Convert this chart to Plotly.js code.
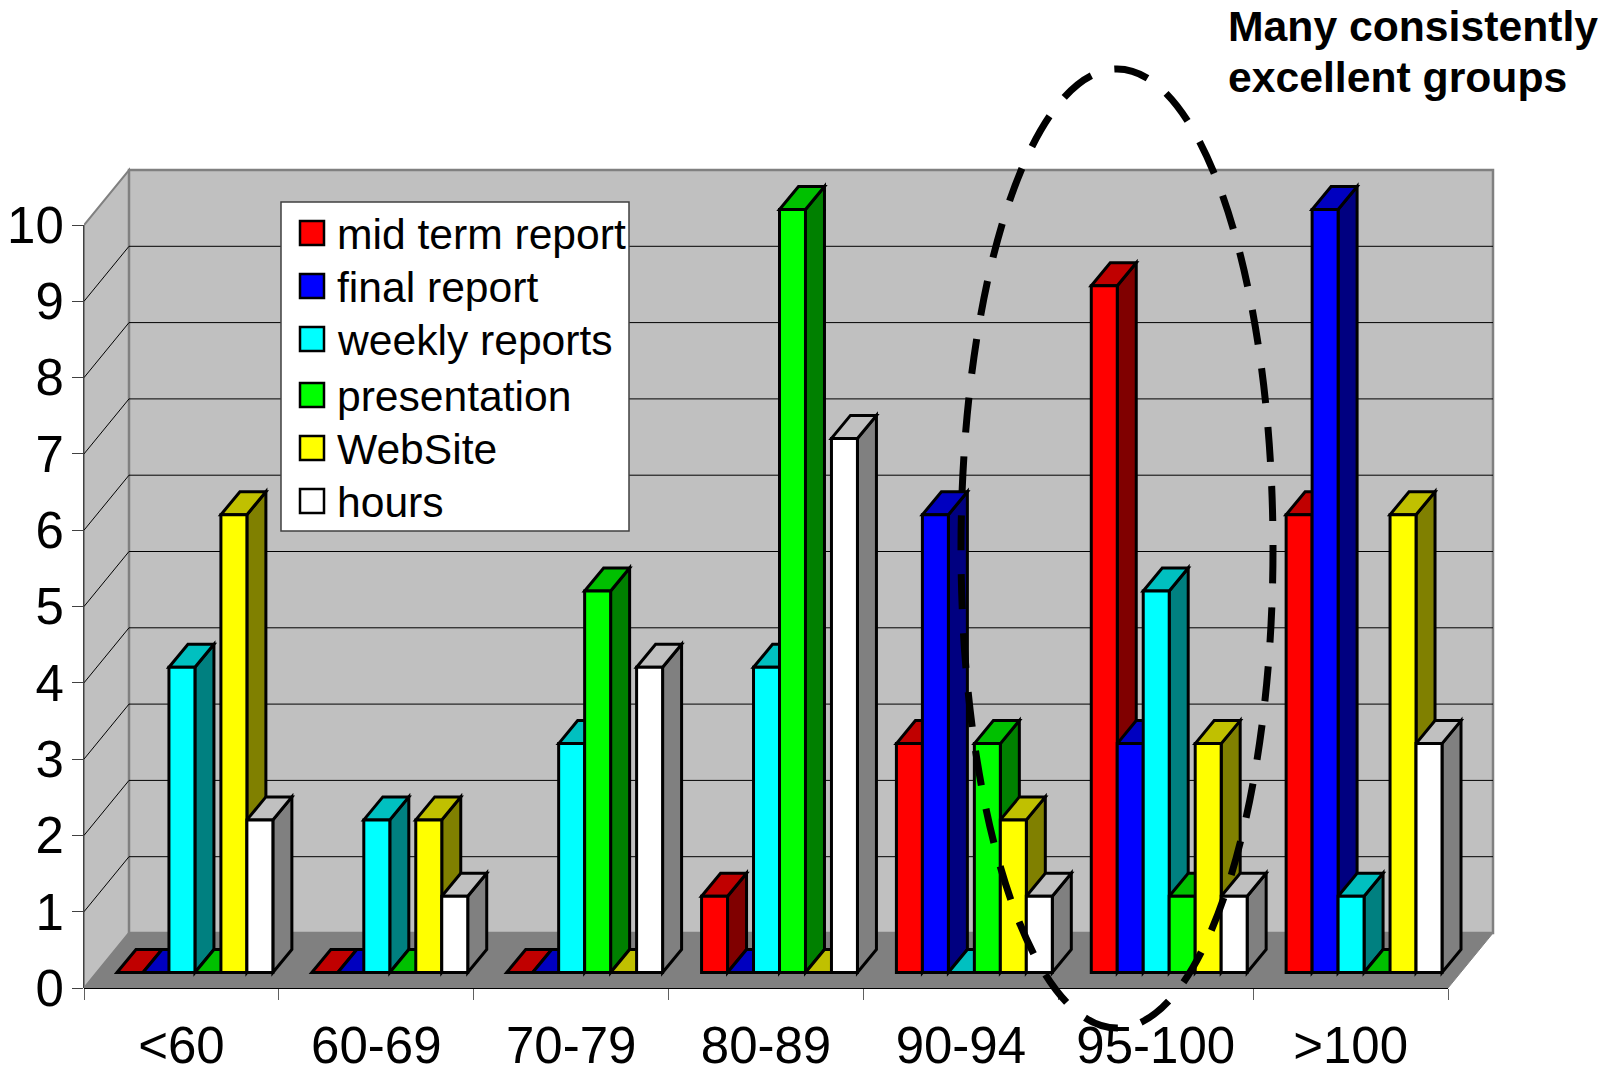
<!DOCTYPE html>
<html>
<head>
<meta charset="utf-8">
<script src="https://cdn.plot.ly/plotly-3.0.1.min.js"></script>
<style>html,body{margin:0;padding:0;background:#fff;overflow:hidden}#c{width:1612px;height:1066px}</style>
</head>
<body>
<div id="c"></div>
<script>
// ---- data ----
const categories = ['<60','60-69','70-79','80-89','90-94','95-100','>100'];
const yTicks = [0,1,2,3,4,5,6,7,8,9,10];
const midTerm      = [0,0,0,1,3,9,6];
const finalReport  = [0,0,0,0,6,3,10];
const weeklyReports= [4,2,3,4,0,5,1];
const presentation = [0,0,5,10,3,1,0];
const webSite      = [6,2,0,0,2,3,6];
const hours        = [2,1,4,7,1,1,3];
const seriesNames  = ['mid term report','final report','weekly reports','presentation','WebSite','hours'];
const seriesValues = [midTerm,finalReport,weeklyReports,presentation,webSite,hours];
const frontColors  = ['#FF0000','#0000FF','#00FFFF','#00FF00','#FFFF00','#FFFFFF'];
const sideColors   = ['#800000','#000080','#008080','#008000','#808000','#808080'];
const topColors    = ['#C00000','#0000C0','#00C0C0','#00C000','#C0C000','#C0C0C0'];
const noteLines    = ['Many consistently','excellent groups'];

// ---- geometry of the fake 3D projection, in px ----
const W=1612,H=1066, left=84, bottom=988;
const unitX=(1448-84)/7, unitY=(988-225)/10;
const plotRight=1496, plotTop=167;
const xMax=(plotRight-left)/unitX, yMax=(bottom-plotTop)/unitY;
const wallDx=45/unitX, wallDy=55/unitY;      // back wall offset
const barDx=19/unitX, barDy=23/unitY;        // bar depth
const barBase=15.5/unitY, groupShift=13.5/unitX; // bar plane offset from the front plane
const bargap=0.2, barW=(1-bargap)/6;
const groupX=categories.map((c,i)=>i+0.5+groupShift);

const px=x=>(x-left)/(plotRight-left), py=y=>(bottom-y)/(bottom-plotTop);
const poly=pts=>'M'+pts.map(p=>p[0]+','+p[1]).join('L')+'Z';

const shapes=[];
// walls + floor
shapes.push({type:'path',layer:'between',path:poly([[0,0],[wallDx,wallDy],[wallDx,10+wallDy],[0,10]]),fillcolor:'#C0C0C0',line:{color:'#808080',width:2}});
shapes.push({type:'rect',layer:'between',x0:wallDx,x1:7+wallDx,y0:wallDy,y1:10+wallDy,fillcolor:'#C0C0C0',line:{color:'#808080',width:2.5}});
shapes.push({type:'path',layer:'between',path:poly([[0,0],[7,0],[7+wallDx,wallDy],[wallDx,wallDy]]),fillcolor:'#808080',line:{color:'#808080',width:1}});
// gridlines
yTicks.filter(v=>v>0&&v<10).forEach(v=>{
  shapes.push({type:'path',layer:'between',path:`M0,${v}L${wallDx},${v+wallDy}L${7+wallDx},${v+wallDy}`,line:{color:'#000000',width:1}});
});
// bar sides and tops, left to right
categories.forEach((c,i)=>{
  seriesValues.forEach((vals,s)=>{
    const x0=groupX[i]-(1-bargap)/2+s*barW, x1=x0+barW, b=barBase, t=barBase+vals[i];
    if(vals[i]>0) shapes.push({type:'path',layer:'between',
      path:poly([[x1,b],[x1+barDx,b+barDy],[x1+barDx,t+barDy],[x1,t]]),
      fillcolor:sideColors[s],line:{color:'#000',width:3}});
    shapes.push({type:'path',layer:'between',
      path:poly([[x0,t],[x0+barDx,t+barDy],[x1+barDx,t+barDy],[x1,t]]),
      fillcolor:topColors[s],line:{color:'#000',width:3}});
  });
});
// axis edges
shapes.push({type:'line',layer:'between',xref:'paper',yref:'y',x0:0,x1:0,y0:0,y1:10,line:{color:'#404040',width:2}});
shapes.push({type:'line',layer:'between',xref:'x',yref:'paper',x0:0,x1:7,y0:0,y1:0,line:{color:'#000',width:2}});

// legend box, keys and labels
shapes.push({type:'rect',layer:'above',xref:'paper',yref:'paper',x0:px(281),x1:px(629),y0:py(202),y1:py(531),fillcolor:'#fff',line:{color:'#404040',width:1.5}});
const legendY=[233,286,339,395,448,501];
const annotations=[];
seriesNames.forEach((n,s)=>{
  shapes.push({type:'rect',layer:'above',xref:'paper',yref:'paper',x0:px(300),x1:px(324),y0:py(legendY[s]-12),y1:py(legendY[s]+12),fillcolor:frontColors[s],line:{color:'#000',width:2.5}});
  annotations.push({xref:'paper',yref:'paper',x:px(336),y:py(legendY[s]+1),xanchor:'left',yanchor:'middle',showarrow:false,align:'left',text:n,borderpad:0,
    font:{family:'"Liberation Sans",Arial,sans-serif',size:42.6,color:'#000'}});
});
// note text
noteLines.forEach((t,i)=>{
  annotations.push({xref:'paper',yref:'paper',x:px(1227),y:py(26+i*51),xanchor:'left',yanchor:'middle',showarrow:false,align:'left',text:t,borderpad:0,
    font:{family:'"Liberation Sans",Arial,sans-serif',size:42.7,weight:700,color:'#000'}});
});
// dashed ellipse
shapes.push({type:'circle',layer:'above',xref:'paper',yref:'paper',x0:px(961),x1:px(1273),y0:py(1028),y1:py(69),fillcolor:'rgba(0,0,0,0)',line:{color:'#000',width:7,dash:'35px,24px'}});

const traces=seriesNames.map((n,s)=>({
  type:'bar',name:n,x:groupX,y:seriesValues[s],base:barBase,
  marker:{color:frontColors[s],line:{color:'#000',width:3}},showlegend:false,hoverinfo:'skip',cliponaxis:false
}));

const tickFont={family:'"Liberation Sans",Arial,sans-serif',size:51,color:'#000'};
const layout={
  width:W,height:H,autosize:false,paper_bgcolor:'#fff',plot_bgcolor:'rgba(0,0,0,0)',
  margin:{l:left,r:W-plotRight,t:plotTop,b:H-bottom,pad:0},
  barmode:'group',bargap:bargap,bargroupgap:0,showlegend:false,
  xaxis:{range:[0,xMax],showgrid:false,zeroline:false,showline:false,
    tickmode:'array',tickvals:categories.map((c,i)=>i+0.5),ticktext:categories,ticks:'',tickfont:tickFont,ticklabelstandoff:23,
    minor:{tickmode:'array',tickvals:[0,1,2,3,4,5,6,7],ticks:'outside',ticklen:11,tickwidth:1,tickcolor:'#606060',showgrid:false}},
  yaxis:{range:[0,yMax],showgrid:false,zeroline:false,showline:false,
    tickmode:'array',tickvals:yTicks,ticktext:yTicks.map(String),ticks:'outside',ticklen:11,tickwidth:1,tickcolor:'#404040',tickfont:tickFont,ticklabelstandoff:-2,ticklabelshift:6.5},
  shapes,annotations
};
Plotly.newPlot('c',traces,layout,{displayModeBar:false,staticPlot:true});
</script>
</body>
</html>
